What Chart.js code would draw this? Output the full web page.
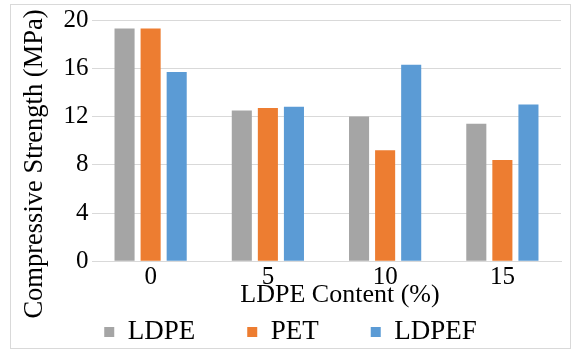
<!DOCTYPE html>
<html>
<head>
<meta charset="utf-8">
<script src="https://cdn.jsdelivr.net/npm/chart.js@4/dist/chart.umd.min.js"></script>
<style>
  html, body { margin: 0; padding: 0; background: #ffffff; }
  #wrap { width: 572px; height: 350px; }
</style>
</head>
<body>
<div id="wrap"><canvas id="c" width="572" height="350"></canvas></div>
<script>
// ---- data ----
const categories = ['0', '5', '10', '15'];
const seriesNames = ['LDPE', 'PET', 'LDPEF'];
const ldpeValues = [19.3, 12.5, 12.0, 11.4];
const petValues = [19.3, 12.7, 9.2, 8.4];
const ldpefValues = [15.7, 12.8, 16.3, 13.0];
const yTickLabels = [0, 4, 8, 12, 16, 20];
const xAxisTitle = 'LDPE Content (%)';
const yAxisTitle = 'Compressive Strength (MPa)';

const FONT = "'Liberation Serif', 'Times New Roman', serif";
const colors = ['#A5A5A5', '#ED7D31', '#5B9BD5'];
const LEGEND_PAD = 52;

const decorPlugin = {
  id: 'decor',
  afterLayout(chart) {
    const lg = chart.legend;
    if (lg) {
      lg.top = 318.5 - LEGEND_PAD;
      lg.bottom = 348;
      lg.height = lg.bottom - lg.top;
    }
  },
  beforeDraw(chart) {
    const ctx = chart.ctx;
    ctx.save();
    ctx.strokeStyle = '#d9d9d9';
    ctx.lineWidth = 1;
    ctx.strokeRect(10.5, 4.5, 560, 344);
    ctx.restore();
  },
  afterDraw(chart) {
    const ctx = chart.ctx;
    ctx.save();
    ctx.fillStyle = '#000000';
    ctx.font = "26px " + FONT;
    ctx.textAlign = 'center';
    ctx.textBaseline = 'alphabetic';
    ctx.fillText(xAxisTitle, 340, 301.5);
    ctx.font = "26.5px " + FONT;
    ctx.translate(42, 164);
    ctx.rotate(-Math.PI / 2);
    ctx.fillText(yAxisTitle, 0, 0);
    ctx.restore();
  }
};

const ds = [ldpeValues, petValues, ldpefValues].map((vals, i) => ({
  label: seriesNames[i],
  data: vals,
  backgroundColor: colors[i],
  borderWidth: 0,
  categoryPercentage: 0.667,
  barPercentage: 0.77
}));

new Chart(document.getElementById('c'), {
  type: 'bar',
  data: { labels: categories, datasets: ds },
  plugins: [decorPlugin],
  options: {
    responsive: false,
    animation: false,
    layout: { padding: { left: 20, right: 11, top: 20, bottom: 2 } },
    plugins: {
      tooltip: { enabled: false },
      title: { display: false },
      legend: {
        position: 'bottom',
        maxHeight: 56.7,
        labels: {
          usePointStyle: true,
          pointStyle: 'rect',
          boxWidth: 10,
          boxHeight: 10,
          padding: LEGEND_PAD,
          color: '#000000',
          font: { family: FONT, size: 27 }
        }
      }
    },
    scales: {
      x: {
        grid: { display: false, drawTicks: false },
        border: { display: true, color: '#d9d9d9' },
        ticks: { color: '#000000', padding: 1, font: { family: FONT, size: 25 } },
        afterFit(scale) { scale.height = 30; }
      },
      y: {
        min: 0,
        max: 20,
        grid: { color: '#d9d9d9', drawTicks: false },
        border: { display: false },
        ticks: {
          stepSize: 2,
          padding: 3.5,
          color: '#000000',
          font: { family: FONT, size: 25 },
          callback: (v) => yTickLabels.includes(v) ? String(v) : ''
        },
        afterFit(scale) { scale.width = 72; }
      }
    }
  }
});
</script>
</body>
</html>
